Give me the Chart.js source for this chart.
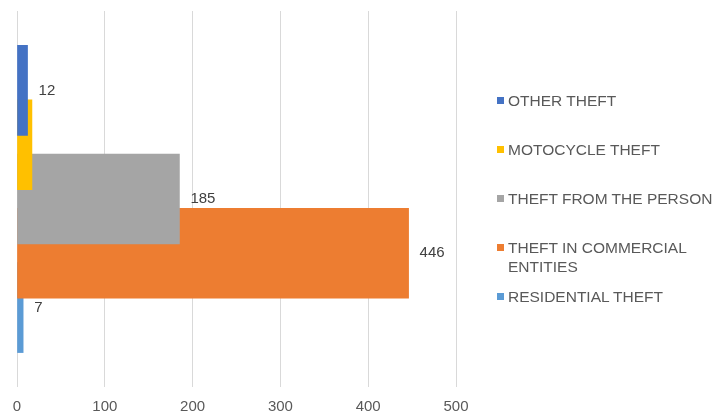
<!DOCTYPE html>
<html>
<head>
<meta charset="utf-8">
<script src="https://cdn.jsdelivr.net/npm/chart.js@4/dist/chart.umd.min.js"></script>
<style>
  body { margin: 0; background: #fff; }
  #wrap { position: relative; width: 717px; height: 412px; }
  #chart { display: block; }
  #legend { position: absolute; left: 497px; top: 91px; width: 220px;
    font-family: "Liberation Sans", Arial, sans-serif; font-size: 15.5px; color: #595959; }
  #legend .item { position: relative; height: 49px; line-height: 19px; }
  #legend .box { position: absolute; left: 0; top: 6px; width: 7px; height: 7px; }
  #legend .txt { position: absolute; left: 11px; top: 0; width: 209px; }
</style>
</head>
<body>
<div id="wrap">
  <canvas id="chart" width="717" height="412"></canvas>
  <div id="legend"></div>
</div>
<script>
// categories, top to bottom
var categories = ['OTHER THEFT', 'MOTOCYCLE THEFT', 'THEFT FROM THE PERSON', 'THEFT IN COMMERCIAL ENTITIES', 'RESIDENTIAL THEFT'];
var values = [12, 17, 185, 446, 7];
var colors = ['#4472C4', '#FFC000', '#A5A5A5', '#ED7D31', '#5B9BD5'];
// motocycle label is hidden behind the grey bar in the original
var showLabel = [true, false, true, true, true];
var xTicks = [0, 100, 200, 300, 400, 500];

// legend (html, so the long name can wrap)
var legend = document.getElementById('legend');
categories.forEach(function (name, i) {
    var item = document.createElement('div');
    item.className = 'item';
    item.innerHTML = '<span class="box" style="background:' + colors[i] + '"></span><span class="txt">' + name + '</span>';
    legend.appendChild(item);
});

// bars overlap; chart.js paints dataset 0 last, so the top bar ends up in front
var datasets = categories.map(function (name, i) {
    return {
        label: name,
        data: [{ x: values[i], y: i + 1 }],
        backgroundColor: colors[i],
        showValue: showLabel[i]
    };
});

var valueLabels = {
    id: 'valueLabels',
    afterDatasetsDraw: function (chart) {
        var ctx = chart.ctx;
        ctx.save();
        ctx.font = '15px "Liberation Sans", Arial, sans-serif';
        ctx.fillStyle = '#404040';
        ctx.textBaseline = 'middle';
        chart.data.datasets.forEach(function (ds, di) {
            if (!ds.showValue) return;
            var bar = chart.getDatasetMeta(di).data[0];
            ctx.fillText(String(ds.data[0].x), bar.x + 11, bar.y);
        });
        ctx.restore();
    }
};

var ctx = document.getElementById('chart').getContext('2d');
var chart = new Chart(ctx, {
    type: 'bar',
    data: { datasets: datasets },
    options: {
        indexAxis: 'y',
        responsive: false,
        animation: false,
        grouped: false,
        barThickness: 90,
        layout: { padding: { left: 17, right: 261, top: 11, bottom: -14 } },
        plugins: { legend: { display: false }, tooltip: { enabled: false } },
        scales: {
            x: {
                type: 'linear',
                min: xTicks[0],
                max: xTicks[xTicks.length - 1],
                afterBuildTicks: function (axis) {
                    axis.ticks = xTicks.map(function (v) { return { value: v }; });
                },
                grid: { color: '#d9d9d9', lineWidth: 1, drawTicks: false },
                border: { display: false },
                ticks: {
                    color: '#595959',
                    padding: 12,
                    font: { family: '"Liberation Sans", Arial, sans-serif', size: 15, lineHeight: 1 }
                }
            },
            y: {
                type: 'linear',
                reverse: true,
                offset: false,
                min: -0.463,
                max: categories.length + 1.463,
                display: false
            }
        }
    },
    plugins: [valueLabels]
});
</script>
</body>
</html>
